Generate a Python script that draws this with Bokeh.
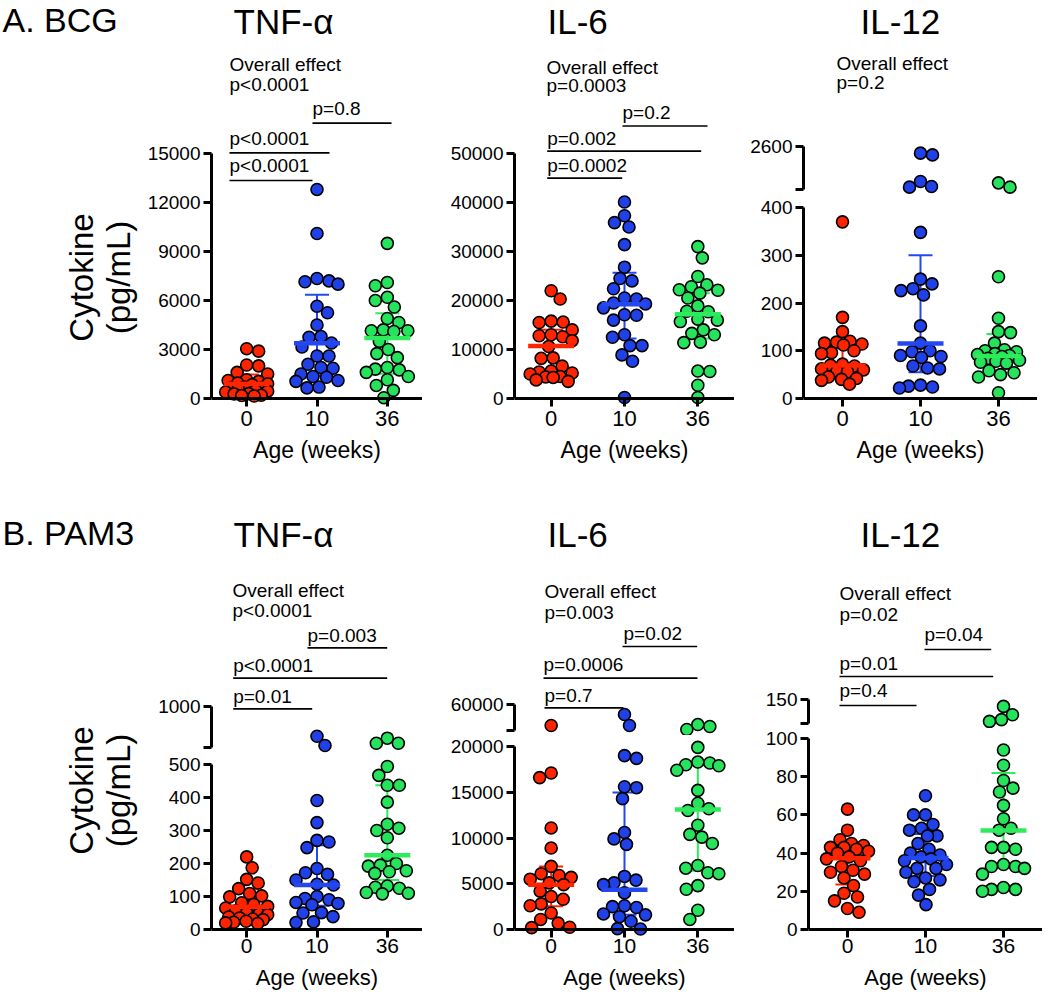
import math
from bokeh.plotting import figure
from bokeh.layouts import row, column
from bokeh.models import Range1d, FixedTicker, Span, LinearAxis
from bokeh.core.properties import value
from bokeh.embed import file_html
from bokeh.resources import INLINE

FONT = "Liberation Sans"

# ---------------- data ----------------
weeks = ["0", "10", "36"]
x_title = "Age (weeks)"
dot_colors = ["#FF2400", "#2040E8", "#25E35A"]
bar_colors = ["#FF2400", "#2448F0", "#2EEB5C"]

# A. BCG  TNF-alpha
bcg_tnf_w0 = [3050, 2900, 2050, 2000, 1600, 1500, 1150, 1100, 1050, 950, 900, 850,
              700, 650, 650, 600, 500, 450, 400, 300, 280, 200, 180, 150]
bcg_tnf_w10 = [12800, 10100, 7350, 7200, 7150, 7000, 5650, 5250, 4500, 3800, 3750, 3400,
               3150, 2600, 2600, 2100, 1900, 1850, 1500, 1350, 1300, 1100, 1050, 700, 650]
bcg_tnf_w36 = [9500, 7100, 6900, 6200, 6000, 5600, 4900, 4650, 4200, 4150, 4150, 4100,
               3500, 3000, 2750, 2500, 1900, 1800, 1750, 1600, 1350, 1150, 800, 500, 50]
bcg_tnf_median = [900, 3390, 3710]
bcg_tnf_q1 = [420, 1410, 1510]
bcg_tnf_q3 = [1470, 6350, 5220]
bcg_tnf_overall = "p<0.0001"
bcg_tnf_pairs = ["p=0.8", "p<0.0001", "p<0.0001"]

# A. BCG  IL-6
bcg_il6_w0 = [22000, 20300, 15800, 15600, 15500, 14000, 13000, 12800, 12600, 11800, 10600,
              8300, 8200, 6600, 5600, 5400, 5200, 5000, 4500, 4400, 4300, 3800, 3500]
bcg_il6_w10 = [40100, 37300, 35900, 35000, 31400, 26800, 24500, 24000, 22400, 20500, 20300,
               19500, 19300, 18500, 17100, 17000, 16000, 13000, 12500, 10800, 10800, 8900, 7600, 200]
bcg_il6_w36 = [31000, 28700, 24900, 23200, 22800, 22200, 22100, 21500, 20500, 18900, 17800,
               17700, 16200, 16000, 15700, 14000, 13300, 13000, 11500, 11400, 5600, 5500, 2700, 200]
bcg_il6_median = [10700, 19240, 17200]
bcg_il6_q1 = [5080, 12260, 12260]
bcg_il6_q3 = [14020, 25670, 21500]
bcg_il6_overall = "p=0.0003"
bcg_il6_pairs = ["p=0.2", "p=0.002", "p=0.0002"]

# A. BCG  IL-12
bcg_il12_w0 = [370, 170, 140, 120, 118, 116, 114, 112, 100, 96, 94, 72, 70, 68, 62, 60,
               58, 56, 45, 42, 40, 38, 30]
bcg_il12_w10 = [2290, 2210, 970, 740, 710, 348, 250, 240, 230, 226, 217, 152, 116, 100, 98,
                90, 88, 86, 68, 64, 62, 28, 26, 24, 22]
bcg_il12_w36 = [910, 710, 255, 168, 140, 138, 116, 102, 100, 98, 94, 92, 90, 88, 84, 80,
                78, 76, 74, 58, 54, 50, 45, 12]
bcg_il12_median = [69, 115, 89]
bcg_il12_q1 = [45, 55, 71]
bcg_il12_q3 = [110, 300, 135]
bcg_il12_overall = "p=0.2"
bcg_il12_pairs = []

# B. PAM3  TNF-alpha
pam_tnf_w0 = [220, 187, 152, 141, 124, 109, 102, 99, 81, 76, 70, 65, 57, 50, 47, 45, 38,
              35, 32, 30, 25, 22, 20, 18]
pam_tnf_w10 = [707, 617, 391, 324, 270, 265, 248, 185, 172, 167, 150, 137, 135, 100, 94,
               90, 82, 79, 75, 51, 50, 39, 23, 21]
pam_tnf_w36 = [688, 639, 639, 494, 467, 437, 437, 386, 319, 307, 300, 278, 225, 200, 195,
               192, 178, 175, 170, 132, 128, 125, 112, 110, 108]
pam_tnf_median = [69, 135, 225]
pam_tnf_q1 = [35, 72, 150]
pam_tnf_q3 = [122, 255, 437]
pam_tnf_overall = "p<0.0001"
pam_tnf_pairs = ["p=0.003", "p<0.0001", "p=0.01"]

# B. PAM3  IL-6
pam_il6_w0 = [31700, 17100, 16600, 11100, 8900, 6900, 6100, 5900, 5700, 5500, 5100, 4900,
              4200, 3600, 3300, 2800, 2600, 1800, 1100, 700, 250, 200]
pam_il6_w10 = [46500, 31700, 19000, 18700, 15600, 15500, 14300, 10600, 9900, 9300, 5800,
               5400, 5100, 4900, 4000, 2600, 2500, 2400, 1700, 1600, 1400, 900, 100, 50]
pam_il6_w36 = [33000, 30400, 26300, 19900, 18300, 18200, 18000, 17900, 17400, 15200, 13800,
               13200, 13000, 11400, 10400, 10100, 9400, 7000, 6700, 6200, 6100, 4800, 4400, 2100, 1100]
pam_il6_median = [4890, 4350, 13120]
pam_il6_q1 = [2540, 1600, 6410]
pam_il6_q3 = [6880, 14970, 18000]
pam_il6_overall = "p=0.003"
pam_il6_pairs = ["p=0.02", "p=0.0006", "p=0.7"]

# B. PAM3  IL-12
pam_il12_w0 = [63, 52, 47, 45, 44, 43, 43, 42, 41, 40, 38, 37, 36, 33, 31, 30, 29, 27, 23,
               19, 17, 15, 11, 9]
pam_il12_w10 = [70, 60, 60, 55, 53, 52, 49, 49, 45, 42, 40, 39, 38, 37, 36, 34, 32, 32, 30,
                27, 26, 25, 21, 18, 13]
pam_il12_w36 = [139, 125, 117, 114, 94, 86, 78, 74, 72, 65, 58, 53, 52, 43, 43, 42, 34, 33,
                33, 32, 29, 22, 21, 21, 20]
pam_il12_median = [37.3, 37.5, 51.8]
pam_il12_q1 = [23.6, 28, 33]
pam_il12_q3 = [42, 50, 82]
pam_il12_overall = "p=0.02"
pam_il12_pairs = ["p=0.04", "p=0.01", "p=0.4"]

# ---------------- layout (pixels from the top-left of the page) ----------------
ROW_A = dict(top=0, bottom=470, y0=398, shift=0, ext=7, bb_t=32, standoff=4,
             tick_fs=22, age_fs=23, age_base=458, label_w=140,
             head="A. BCG", head_base=31, title_base=33, ycenter=277)
ROW_B = dict(top=470, bottom=992, y0=929, shift=0, ext=7, bb_t=28, standoff=1,
             tick_fs=21, age_fs=22, age_base=985, label_w=148,
             head="B. PAM3", head_base=544, title_base=546, ycenter=790)
COL1 = (211, 422)
COL2 = (514, 734)
COL3A = (803, 1037)
COL3B = (808, 1042)
DOT = 12
DIAM = 12.0
SWARM_W = 21.0
MID = 0.35  # distance from alphabetic baseline to the text middle, in em


def swarm_offsets(ypx, diam, wmax):
    n = len(ypx)
    order = sorted(range(n), key=lambda k: ypx[k])
    placed = []
    offs = [0.0] * n
    for cnt, k in enumerate(order):
        y = ypx[k]
        cands = [0.0]
        step = 1
        while step * 0.5 <= wmax:
            d = step * 0.5
            cands += [d, -d] if cnt % 2 else [-d, d]
            step += 1
        best, bestd = 0.0, -1.0
        for o in cands:
            md = min([math.hypot(o - po, y - py) for po, py in placed] or [1e9])
            if md >= diam:
                best = o
                break
            if md > bestd:
                best, bestd = o, md
        offs[k] = best
        placed.append((best, y))
    return offs


def base_fig(width, height, bl, bb, yr, fl, fr, px_bot, px_top):
    p = figure(width=int(width), height=int(height), x_range=Range1d(-0.5, 2.5), y_range=yr,
               x_axis_type=None, y_axis_type=None, output_backend="svg", toolbar_location=None,
               min_border_left=int(bl), min_border_right=0, min_border_top=0,
               min_border_bottom=int(bb))
    p.outline_line_color = None
    p.background_fill_color = "white"
    p.border_fill_color = "white"
    p.extra_x_ranges = {"px": Range1d(fl, fr)}
    p.extra_y_ranges = {"px": Range1d(px_bot, px_top)}
    return p


def yaxis(ticks, bounds, overrides=None):
    ax = LinearAxis(ticker=FixedTicker(ticks=list(ticks), minor_ticks=[]), bounds=bounds,
                    axis_line_width=3, axis_line_color="black",
                    major_tick_line_width=3, major_tick_line_color="black",
                    major_tick_out=8, major_tick_in=0, minor_tick_out=0, minor_tick_in=0,
                    major_label_text_font=FONT, major_label_text_font_size="19px",
                    major_label_text_color="black", major_label_standoff=3)
    if overrides:
        ax.major_label_overrides = overrides
    return ax


def xaxis(rc):
    return LinearAxis(ticker=FixedTicker(ticks=[0, 1, 2], minor_ticks=[]),
                      major_label_overrides={0: weeks[0], 1: weeks[1], 2: weeks[2]},
                      axis_line_color=None, major_tick_line_width=3, major_tick_line_color="black",
                      major_tick_in=rc["ext"], major_tick_out=8 - rc["ext"],
                      minor_tick_in=0, minor_tick_out=0,
                      major_label_text_font=FONT, major_label_text_font_size="%dpx" % rc["tick_fs"],
                      major_label_text_color="black", major_label_standoff=rc["standoff"])


def add_text(p, xs, bases, texts, size, align="left", named=True):
    ys = [b - MID * size for b in bases]
    kw = dict(x_range_name="px", y_range_name="px") if named else {}
    p.text(x=xs, y=ys, text=texts, text_font=value(FONT), text_font_size="%dpx" % size,
           text_color="black", text_baseline="middle", text_align=align, **kw)


def build_panel(rc, spec, fig_left):
    fl, fr = spec["col"]
    width = fr - fig_left
    bl = fl - fig_left
    spacing = (fr - fl) / 3.0
    shift, top, bottom = rc["shift"], rc["top"], rc["bottom"]
    y0r = rc["y0"]
    y0p = y0r + shift
    Fb = y0p + rc["ext"]
    age_top = Fb + rc["bb_t"]
    lo, up = spec["lower"], spec["upper"]
    s_low = (y0r - lo["px"]) / lo["top"]
    split = int(round(up["split"] + shift)) if up else top

    low_rng = Range1d(-(Fb - y0p) / s_low, (y0p - split) / s_low)
    pl = base_fig(width, age_top - split, bl, rc["bb_t"], low_rng, fl, fr, Fb - shift, split - shift)
    pl.add_layout(yaxis(lo["ticks"], (0, lo["top"])), "left")
    pl.add_layout(xaxis(rc), "below")
    pl.add_layout(Span(location=0, dimension="width", line_color="black", line_width=3))

    pu = None
    if up:
        s_up = (up["lo_px"] - up["hi_px"]) / (up["hi"] - up["lo"])
        lo_page = up["lo_px"] + shift
        up_rng = Range1d(up["lo"] - (split - lo_page) / s_up, up["lo"] + (lo_page - top) / s_up)
        pu = base_fig(width, split - top, bl, 0, up_rng, fl, fr, split - shift, top - shift)
        pu.add_layout(yaxis([up["lo"], up["hi"]], (up["lo"], up["hi"]), {up["lo"]: ""}), "left")

    # x-axis title strip below the tick labels
    pa = base_fig(width, bottom - age_top, bl, 0, Range1d(0, 1), fl, fr, bottom - shift, age_top - shift)
    add_text(pa, [(fl + fr) / 2.0], [rc["age_base"]], [x_title], rc["age_fs"], align="center")

    # error bars (median with IQR) behind the dots
    med, q1, q3 = spec["med"], spec["q1"], spec["q3"]
    cap = 12.0 / spacing
    mw = 23.0 / spacing
    xs = [0, 1, 2]
    pl.segment(x0=xs, y0=q1, x1=xs, y1=q3, line_color=bar_colors, line_width=2)
    pl.segment(x0=[x - cap for x in xs], y0=q3, x1=[x + cap for x in xs], y1=q3,
               line_color=bar_colors, line_width=2)
    pl.segment(x0=[x - cap for x in xs], y0=q1, x1=[x + cap for x in xs], y1=q1,
               line_color=bar_colors, line_width=2)

    # dots arranged in a swarm
    for g, vals in enumerate(spec["groups"]):
        ypx = []
        for v in vals:
            if up and v > lo["top"]:
                ypx.append(up["lo_px"] - (v - up["lo"]) * (up["lo_px"] - up["hi_px"]) / (up["hi"] - up["lo"]))
            else:
                ypx.append(y0r - v * s_low)
        offs = swarm_offsets(ypx, DIAM, SWARM_W)
        lx, ly, ux, uy = [], [], [], []
        for v, o in zip(vals, offs):
            if up and v > lo["top"]:
                ux.append(g + o / spacing)
                uy.append(v)
            else:
                lx.append(g + o / spacing)
                ly.append(v)
        pl.scatter(x=lx, y=ly, size=DOT, marker="circle", fill_color=dot_colors[g],
                   line_color="black", line_width=1.6)
        if pu is not None and ux:
            pu.scatter(x=ux, y=uy, size=DOT, marker="circle", fill_color=dot_colors[g],
                       line_color="black", line_width=1.6)

    # median bars on top
    pl.segment(x0=[x - mw for x in xs], y0=med, x1=[x + mw for x in xs], y1=med,
               line_color=bar_colors, line_width=4.5)

    # annotations
    tf = pu if pu is not None else pl
    title, tx = spec["title"]
    add_text(tf, [tx], [rc["title_base"]], [title], 35)
    ox, ob1, ob2 = spec["overall_pos"]
    add_text(tf, [ox, ox], [ob1, ob2], ["Overall effect", spec["overall"]], 19)
    for lab, (tx_, tb, x0, x1, ly) in zip(spec["pairs"], spec["pair_pos"]):
        add_text(tf, [tx_], [tb], [lab], 19)
        tf.segment(x0=[x0], y0=[ly], x1=[x1], y1=[ly], x_range_name="px", y_range_name="px",
                   line_color="black", line_width=1.7)

    parts = ([pu] if pu is not None else []) + [pl, pa]
    return column(parts, spacing=0)


def label_fig(rc):
    top, bottom, shift, w = rc["top"], rc["bottom"], rc["shift"], rc["label_w"]
    p = figure(width=w, height=bottom - top, x_range=Range1d(0, w),
               y_range=Range1d(bottom - shift, top - shift),
               x_axis_type=None, y_axis_type=None, output_backend="svg", toolbar_location=None,
               min_border_left=0, min_border_right=0, min_border_top=0, min_border_bottom=0)
    p.outline_line_color = None
    add_text(p, [2], [rc["head_base"]], [rc["head"]], 34, named=False)
    p.text(x=[81, 118], y=[rc["ycenter"], rc["ycenter"]], text=["Cytokine", "(pg/mL)"],
           angle=math.pi / 2, text_font=value(FONT), text_font_size="33px", text_color="black",
           text_baseline="middle", text_align="center")
    return p


specs_A = [
    dict(col=COL1, groups=[bcg_tnf_w0, bcg_tnf_w10, bcg_tnf_w36], med=bcg_tnf_median,
         q1=bcg_tnf_q1, q3=bcg_tnf_q3,
         lower=dict(top=15000, px=153, ticks=range(0, 15001, 3000)), upper=None,
         title=("TNF-α", 233), overall=bcg_tnf_overall, overall_pos=(229, 71, 90.5),
         pairs=bcg_tnf_pairs,
         pair_pos=[(312, 115, 312, 391, 122.7), (229, 145, 229, 329, 152.3),
                   (229, 171.7, 229, 312, 180)]),
    dict(col=COL2, groups=[bcg_il6_w0, bcg_il6_w10, bcg_il6_w36], med=bcg_il6_median,
         q1=bcg_il6_q1, q3=bcg_il6_q3,
         lower=dict(top=50000, px=153, ticks=range(0, 50001, 10000)), upper=None,
         title=("IL-6", 547), overall=bcg_il6_overall, overall_pos=(546, 74, 92),
         pairs=bcg_il6_pairs,
         pair_pos=[(622, 118.3, 622, 707, 125.5), (546.7, 145, 546.7, 700.7, 150.7),
                   (546.7, 172, 546.7, 621.7, 177.7)]),
    dict(col=COL3A, groups=[bcg_il12_w0, bcg_il12_w10, bcg_il12_w36], med=bcg_il12_median,
         q1=bcg_il12_q1, q3=bcg_il12_q3,
         lower=dict(top=400, px=207, ticks=range(0, 401, 100)),
         upper=dict(lo=600, hi=2600, lo_px=189, hi_px=146, split=195),
         title=("IL-12", 860), overall=bcg_il12_overall, overall_pos=(836, 70, 89),
         pairs=bcg_il12_pairs, pair_pos=[]),
]

specs_B = [
    dict(col=COL1, groups=[pam_tnf_w0, pam_tnf_w10, pam_tnf_w36], med=pam_tnf_median,
         q1=pam_tnf_q1, q3=pam_tnf_q3,
         lower=dict(top=500, px=764, ticks=range(0, 501, 100)),
         upper=dict(lo=600, hi=1000, lo_px=746.7, hi_px=705.7, split=753),
         title=("TNF-α", 233), overall=pam_tnf_overall, overall_pos=(232, 597, 617),
         pairs=pam_tnf_pairs,
         pair_pos=[(307, 641.7, 307, 386.7, 647.3), (232.7, 671.7, 232.7, 386.7, 677.7),
                   (232.7, 703, 232.7, 311.7, 708.3)]),
    dict(col=COL2, groups=[pam_il6_w0, pam_il6_w10, pam_il6_w36], med=pam_il6_median,
         q1=pam_il6_q1, q3=pam_il6_q3,
         lower=dict(top=20000, px=746, ticks=range(0, 20001, 5000)),
         upper=dict(lo=25000, hi=60000, lo_px=730, hi_px=704, split=735),
         title=("IL-6", 547), overall=pam_il6_overall, overall_pos=(544, 598, 619),
         pairs=pam_il6_pairs,
         pair_pos=[(623, 640, 622, 696.7, 646), (543, 671, 543, 697, 677.7),
                   (544, 701.7, 544, 623, 707.3)]),
    dict(col=COL3B, groups=[pam_il12_w0, pam_il12_w10, pam_il12_w36], med=pam_il12_median,
         q1=pam_il12_q1, q3=pam_il12_q3,
         lower=dict(top=100, px=738, ticks=range(0, 101, 20)),
         upper=dict(lo=110, hi=150, lo_px=723.3, hi_px=699.3, split=728),
         title=("IL-12", 860), overall=pam_il12_overall, overall_pos=(839, 600, 621),
         pairs=pam_il12_pairs,
         pair_pos=[(924, 641, 924, 990.7, 649), (839, 670, 839, 992.7, 676),
                   (839, 696.7, 839, 916, 705)]),
]


def build_row(rc, specs):
    children = [label_fig(rc)]
    left = rc["label_w"]
    for s in specs:
        children.append(build_panel(rc, s, left))
        left = s["col"][1]
    return row(children, spacing=0)


page = column(build_row(ROW_A, specs_A), build_row(ROW_B, specs_B), spacing=0)

open("out.html", "w").write(file_html(page, INLINE))
